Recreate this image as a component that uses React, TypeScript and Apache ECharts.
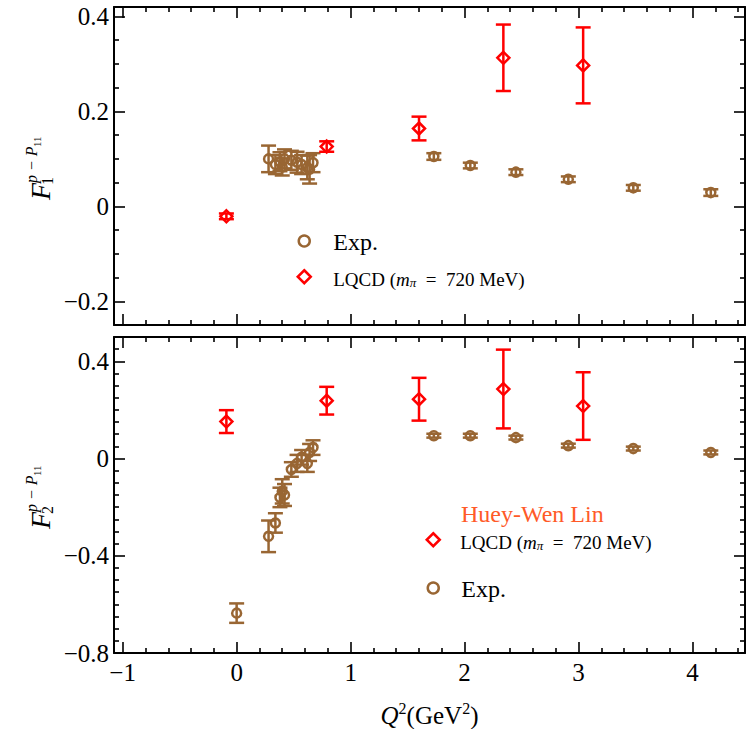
import React, { useEffect, useRef } from 'react';
import * as echarts from 'echarts';

// ---------- data ----------
const lqcdQ2 = [-0.09, 0.79, 1.6, 2.34, 3.04];
const lqcdF1 = [-0.021, 0.126, 0.164, 0.313, 0.297];
const lqcdF1Err = [0.006, 0.011, 0.025, 0.07, 0.08];
const lqcdF2 = [0.152, 0.238, 0.244, 0.286, 0.216];
const lqcdF2Err = [0.047, 0.057, 0.088, 0.162, 0.139];

const expQ2 = [0.28, 0.34, 0.38, 0.4, 0.42, 0.48, 0.53, 0.57, 0.62, 0.64, 0.67, 1.73, 2.05, 2.45, 2.91, 3.48, 4.16];
const expF1 = [0.1, 0.088, 0.094, 0.083, 0.1, 0.097, 0.093, 0.088, 0.082, 0.078, 0.092, 0.105, 0.086, 0.072, 0.057, 0.039, 0.029];
const expF1Err = [0.028, 0.02, 0.02, 0.018, 0.02, 0.02, 0.022, 0.02, 0.025, 0.03, 0.02, 0.007, 0.006, 0.006, 0.006, 0.006, 0.007];
const expF2 = [-0.32, -0.265, -0.16, -0.135, -0.15, -0.045, -0.02, 0.005, -0.02, 0.025, 0.045, 0.094, 0.094, 0.086, 0.053, 0.041, 0.025];
const expF2Err = [0.065, 0.04, 0.04, 0.05, 0.045, 0.03, 0.035, 0.03, 0.035, 0.035, 0.03, 0.008, 0.008, 0.008, 0.008, 0.008, 0.008];

const pdgQ2 = [0.0];
const pdgF2 = [-0.636];
const pdgF2Err = [0.04];

const xRange = [-1.076, 4.46];
const yTopRange = [-0.25, 0.42];
const yBotRange = [-0.8, 0.5];

const LQCD = 'LQCD (mπ = 720 MeV)';
const EXP = 'Exp.';

// ---------- style ----------
const FONT = '"Liberation Serif", "Times New Roman", serif';
const BROWN = '#996633';
const RED = '#ff0000';

const fmtNum = (v: number, digits: number) => {
  if (Math.abs(v) < 1e-9) return '0';
  return (v < 0 ? '\u2212' : '') + Math.abs(v).toFixed(digits);
};

const onStep = (v: number, step: number) => {
  const k = v / step;
  return Math.abs(k - Math.round(k)) < 1e-6;
};

function xAxisCfg(gridIndex: number, position: string, showLabel: boolean, withName: boolean) {
  return {
    type: 'value',
    gridIndex,
    position,
    min: xRange[0],
    max: xRange[1],
    splitNumber: 5,
    axisLine: { show: true, onZero: false, lineStyle: { color: '#000', width: 2 } },
    axisTick: { show: true, inside: true, length: 11, lineStyle: { color: '#000', width: 1.6 } },
    minorTick: { show: true, splitNumber: 5, length: 5, lineStyle: { color: '#000', width: 1.6 } },
    splitLine: { show: false },
    minorSplitLine: { show: false },
    axisLabel: {
      show: showLabel,
      margin: 7,
      fontSize: 25,
      fontFamily: FONT,
      color: '#000',
      formatter: (v: number) => (onStep(v, 1) ? fmtNum(v, 0) : ''),
    },
    name: withName ? '{q|Q}{s|2}{n|(GeV}{s|2}{n|)}' : '',
    nameLocation: 'middle',
    nameGap: 47,
    nameTextStyle: {
      rich: {
        q: { fontFamily: FONT, fontStyle: 'italic', fontSize: 25, lineHeight: 28, color: '#000', verticalAlign: 'bottom' },
        n: { fontFamily: FONT, fontSize: 25, lineHeight: 28, color: '#000', verticalAlign: 'bottom' },
        s: { fontFamily: FONT, fontSize: 16, lineHeight: 16, color: '#000', verticalAlign: 'top' },
      },
    },
  };
}

function yAxisCfg(gridIndex: number, position: string, showLabel: boolean, range: number[], step: number, minorSplit: number, fixedInterval: boolean) {
  const cfg: any = {
    type: 'value',
    gridIndex,
    position,
    min: range[0],
    max: range[1],
    axisLine: { show: true, onZero: false, lineStyle: { color: '#000', width: 2 } },
    axisTick: { show: true, inside: true, length: 11, lineStyle: { color: '#000', width: 1.6 } },
    minorTick: { show: true, splitNumber: minorSplit, length: 5, lineStyle: { color: '#000', width: 1.6 } },
    splitLine: { show: false },
    minorSplitLine: { show: false },
    axisLabel: {
      show: showLabel,
      margin: 5,
      fontSize: 25,
      fontFamily: FONT,
      color: '#000',
      formatter: (v: number) => (onStep(v, step) ? fmtNum(v, 1) : ''),
    },
  };
  if (fixedInterval) cfg.interval = step;
  else cfg.splitNumber = 3;
  return cfg;
}

function errBars(name: string, xs: number[], ys: number[], es: number[], color: string, axisIdx: number) {
  return {
    type: 'custom',
    name,
    xAxisIndex: axisIdx,
    yAxisIndex: axisIdx,
    silent: true,
    z: 2,
    encode: { x: 0, y: [1, 2] },
    data: xs.map((x, i) => [x, ys[i] - es[i], ys[i] + es[i]]),
    renderItem: (params: any, api: any) => {
      const x = api.value(0);
      const lo = api.coord([x, api.value(1)]);
      const hi = api.coord([x, api.value(2)]);
      const hw = 7.5;
      const style = { stroke: color, lineWidth: 2.5 };
      return {
        type: 'group',
        children: [
          { type: 'line', shape: { x1: lo[0], y1: lo[1], x2: hi[0], y2: hi[1] }, style },
          { type: 'line', shape: { x1: lo[0] - hw, y1: lo[1], x2: lo[0] + hw, y2: lo[1] }, style },
          { type: 'line', shape: { x1: hi[0] - hw, y1: hi[1], x2: hi[0] + hw, y2: hi[1] }, style },
        ],
      };
    },
  };
}

function points(name: string, xs: number[], ys: number[], symbol: string, size: any, color: string, axisIdx: number) {
  return {
    type: 'scatter',
    name,
    xAxisIndex: axisIdx,
    yAxisIndex: axisIdx,
    symbol,
    symbolSize: size,
    z: 3,
    itemStyle: { color: 'rgba(0,0,0,0)', borderColor: color, borderWidth: 2.5, opacity: 1 },
    emphasis: { disabled: true },
    data: xs.map((x, i) => [x, ys[i]]),
  };
}

function legendRich(pad: number) {
  return {
    e: { fontFamily: FONT, fontSize: 24, lineHeight: 26, color: '#000', verticalAlign: 'bottom', padding: [0, 0, 0, pad] },
    a0: { fontFamily: FONT, fontSize: 19, lineHeight: 24, color: '#000', verticalAlign: 'bottom', padding: [0, 0, 0, pad] },
    a: { fontFamily: FONT, fontSize: 19, lineHeight: 24, color: '#000', verticalAlign: 'bottom' },
    m: { fontFamily: FONT, fontSize: 19, fontStyle: 'italic', lineHeight: 24, color: '#000', verticalAlign: 'bottom' },
    p: { fontFamily: FONT, fontSize: 13, fontStyle: 'italic', lineHeight: 14, color: '#000', verticalAlign: 'bottom' },
  };
}
const legendFormatter = (name: string) =>
  name === EXP ? '{e|Exp.}' : '{a0|LQCD (}{m|m}{p|π}{a|  =  720 MeV)}';

function legendCfg(name: string, cx: number, textX: number, cy: number, size: number) {
  const left = cx - size / 2;
  const pad = textX - (left + size + 5);
  return {
    show: true,
    data: [name],
    left,
    top: cy - 12,
    orient: 'vertical',
    padding: 0,
    itemWidth: size,
    itemHeight: size,
    selectedMode: false,
    itemStyle: { borderWidth: 2.5 },
    formatter: legendFormatter,
    textStyle: { rich: legendRich(pad) },
  };
}

function yName(gx: number, gy: number, sub: string) {
  const t = (x: number, y: number, text: string, size: number, italic: boolean) => ({
    type: 'text',
    x,
    y,
    style: {
      text,
      fontFamily: FONT,
      fontSize: size,
      fontStyle: italic ? 'italic' : 'normal',
      fill: '#000',
      align: 'left',
      verticalAlign: 'middle',
      textAlign: 'left',
      textVerticalAlign: 'middle',
    },
  });
  return {
    type: 'group',
    x: gx,
    y: gy,
    rotation: Math.PI / 2,
    children: [
      t(0, -9.5, 'F', 28, true),
      t(15, -2.4, sub, 16, false),
      t(17, -18.4, 'p \u2212 P', 16, true),
      t(17 + 36, -13, '11', 11, false),
    ],
  };
}

export default function App() {
  const ref = useRef<HTMLDivElement>(null);
  useEffect(() => {
    if (!ref.current) return;
    const chart = echarts.init(ref.current, undefined, { renderer: 'svg' });
    const option: any = {
      animation: false,
      backgroundColor: '#fff',
      grid: [
        { left: 114, top: 7, width: 631, height: 318 },
        { left: 114, top: 337, width: 631, height: 317 },
      ],
      xAxis: [
        xAxisCfg(0, 'bottom', false, false),
        xAxisCfg(0, 'top', false, false),
        xAxisCfg(1, 'bottom', true, true),
        xAxisCfg(1, 'top', false, false),
      ],
      yAxis: [
        yAxisCfg(0, 'left', true, yTopRange, 0.2, 4, false),
        yAxisCfg(0, 'right', false, yTopRange, 0.2, 4, false),
        yAxisCfg(1, 'left', true, yBotRange, 0.4, 8, true),
        yAxisCfg(1, 'right', false, yBotRange, 0.4, 8, true),
      ],
      legend: [
        legendCfg(EXP, 303, 332, 242, 11),
        legendCfg(LQCD, 303, 332, 281, 13),
        legendCfg(LQCD, 432, 459, 544, 13),
        legendCfg(EXP, 432, 460, 589, 11),
      ],
      title: {
        text: 'Huey-Wen Lin',
        left: 461,
        top: 502,
        padding: 0,
        textStyle: { fontFamily: FONT, fontSize: 24, fontWeight: 'normal', color: '#ff5a28' },
      },
      graphic: [yName(50, 200, '1'), yName(50, 529, '2')],
      series: [
        errBars('errExpTop', expQ2, expF1, expF1Err, BROWN, 0),
        errBars('errLqcdTop', lqcdQ2, lqcdF1, lqcdF1Err, RED, 0),
        points(EXP, expQ2, expF1, 'circle', 9, BROWN, 0),
        points(LQCD, lqcdQ2, lqcdF1, 'diamond', 12, RED, 0),
        errBars('errExpBot', [...pdgQ2, ...expQ2], [...pdgF2, ...expF2], [...pdgF2Err, ...expF2Err], BROWN, 2),
        errBars('errLqcdBot', lqcdQ2, lqcdF2, lqcdF2Err, RED, 2),
        points(EXP, [...pdgQ2, ...expQ2], [...pdgF2, ...expF2], 'circle', 9, BROWN, 2),
        points(LQCD, lqcdQ2, lqcdF2, 'diamond', 12, RED, 2),
      ],
    };
    chart.setOption(option);
    return () => chart.dispose();
  }, []);
  return <div ref={ref} style={{ position: 'fixed', left: 0, top: 0, width: 748, height: 729 }} />;
}
